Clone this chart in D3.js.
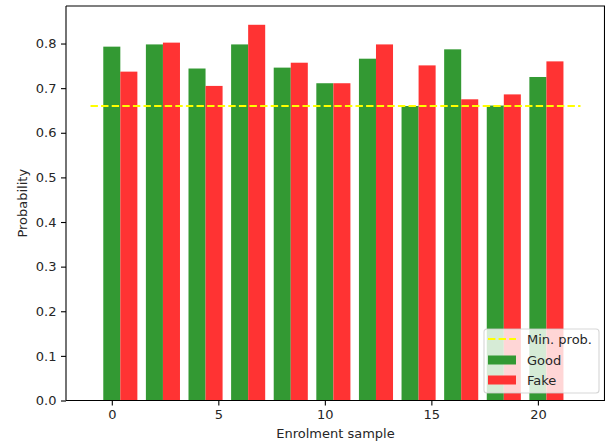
<!DOCTYPE html>
<html>
<head>
<meta charset="utf-8">
<script src="https://cdn.jsdelivr.net/npm/d3@7"></script>
<style>
  html, body { margin: 0; padding: 0; background: #fff; }
  svg text { font-family: "DejaVu Sans", sans-serif; fill: #262626; }
</style>
</head>
<body>
<svg id="chart" width="605" height="445"></svg>
<script>
// Enrolment sample indices (one pair of bars per sample)
const samples = [0, 2, 4, 6, 8, 10, 12, 14, 16, 18, 20];
// Probability for good and fake attempts
const goodProb = [0.793, 0.798, 0.744, 0.798, 0.746, 0.711, 0.766, 0.660, 0.787, 0.661, 0.725];
const fakeProb = [0.737, 0.802, 0.705, 0.842, 0.757, 0.711, 0.798, 0.751, 0.675, 0.686, 0.760];
// Minimum probability threshold and its horizontal extent
const minProb = 0.660;
const minLineRange = [-1, 22];
const xTicks = [0, 5, 10, 15, 20];
const yTicks = [0, 0.1, 0.2, 0.3, 0.4, 0.5, 0.6, 0.7, 0.8];
const legendItems = ["Min. prob.", "Good", "Fake"];

const svg = d3.select("#chart");
const plot = { left: 66, right: 605, top: 6, bottom: 400.5 };
const fontSize = 13;
const barWidth = 0.8;
const greenC = "#339933", redC = "#ff3333", lineC = "#ffff00";

const x = d3.scaleLinear().domain([-2.15, 23.15]).range([plot.left, plot.right]);
const yMax = d3.max(goodProb.concat(fakeProb)) * 1.05;
const y = d3.scaleLinear().domain([0, yMax]).range([plot.bottom, plot.top]);

const g = svg.append("g");

// Bars: good centred on the sample, fake shifted by one bar width
g.selectAll("rect.good").data(samples).join("rect")
  .attr("class", "good")
  .attr("x", (d) => x(d - barWidth / 2))
  .attr("width", (d) => x(d + barWidth / 2) - x(d - barWidth / 2))
  .attr("y", (d, i) => y(goodProb[i]))
  .attr("height", (d, i) => y(0) - y(goodProb[i]))
  .attr("fill", greenC);

g.selectAll("rect.fake").data(samples).join("rect")
  .attr("class", "fake")
  .attr("x", (d) => x(d + barWidth / 2))
  .attr("width", (d) => x(d + 1.5 * barWidth) - x(d + barWidth / 2))
  .attr("y", (d, i) => y(fakeProb[i]))
  .attr("height", (d, i) => y(0) - y(fakeProb[i]))
  .attr("fill", redC);

// Minimum probability threshold
g.append("line")
  .attr("x1", x(minLineRange[0])).attr("x2", x(minLineRange[1]))
  .attr("y1", y(minProb)).attr("y2", y(minProb))
  .attr("stroke", lineC).attr("stroke-width", 2)
  .attr("stroke-dasharray", "7.4,3.2");

// Axes
const xAxis = d3.axisBottom(x).tickValues(xTicks).tickFormat(d3.format("d"))
  .tickSize(5).tickPadding(4.5);
const yAxis = d3.axisLeft(y).tickValues(yTicks).tickFormat(d3.format(".1f"))
  .tickSize(5).tickPadding(4.5);

const gx = svg.append("g").attr("transform", `translate(0,${plot.bottom})`).call(xAxis);
const gy = svg.append("g").attr("transform", `translate(${plot.left},0)`).call(yAxis);
[gx, gy].forEach((a) => {
  a.select(".domain").remove();
  a.selectAll(".tick line").attr("stroke", "#000").attr("stroke-width", 1.1);
  a.selectAll(".tick text").attr("font-size", fontSize).attr("font-family", "DejaVu Sans")
    .attr("fill", "#262626");
});

// Frame
const frame = svg.append("g").attr("fill", "none").attr("stroke", "#000").attr("stroke-width", 1.1);
frame.append("line").attr("x1", plot.left).attr("x2", plot.left).attr("y1", plot.top).attr("y2", plot.bottom);
frame.append("line").attr("x1", plot.left).attr("x2", plot.right).attr("y1", plot.bottom).attr("y2", plot.bottom);
frame.append("line").attr("x1", plot.left).attr("x2", plot.right).attr("y1", plot.top).attr("y2", plot.top);
frame.append("line").attr("x1", plot.right - 0.5).attr("x2", plot.right - 0.5).attr("y1", plot.top).attr("y2", plot.bottom);

// Axis titles
svg.append("text")
  .attr("x", (plot.left + plot.right) / 2).attr("y", 438)
  .attr("text-anchor", "middle").attr("font-size", fontSize)
  .text("Enrolment sample");
svg.append("text")
  .attr("transform", `translate(27,${(plot.top + plot.bottom) / 2}) rotate(-90)`)
  .attr("text-anchor", "middle").attr("font-size", fontSize)
  .text("Probability");

// Legend
const lg = svg.append("g").attr("transform", "translate(484,329)");
lg.append("rect")
  .attr("x", 0).attr("y", 0).attr("width", 115).attr("height", 64)
  .attr("rx", 3).attr("ry", 3)
  .attr("fill", "#fff").attr("fill-opacity", 0.8)
  .attr("stroke", "#ccc").attr("stroke-opacity", 0.8).attr("stroke-width", 1.1);

const rowY = [10, 31, 51];
legendItems.forEach((label, i) => {
  const ry = rowY[i];
  if (i === 0) {
    lg.append("line").attr("x1", 4).attr("x2", 32).attr("y1", ry).attr("y2", ry)
      .attr("stroke", lineC).attr("stroke-width", 2).attr("stroke-dasharray", "7.4,3.2");
  } else {
    lg.append("rect").attr("x", 4).attr("y", ry - 4.5).attr("width", 28).attr("height", 9)
      .attr("fill", i === 1 ? greenC : redC);
  }
  lg.append("text").attr("x", 43).attr("y", ry).attr("dy", "0.36em")
    .attr("font-size", fontSize).text(label);
});
</script>
</body>
</html>
